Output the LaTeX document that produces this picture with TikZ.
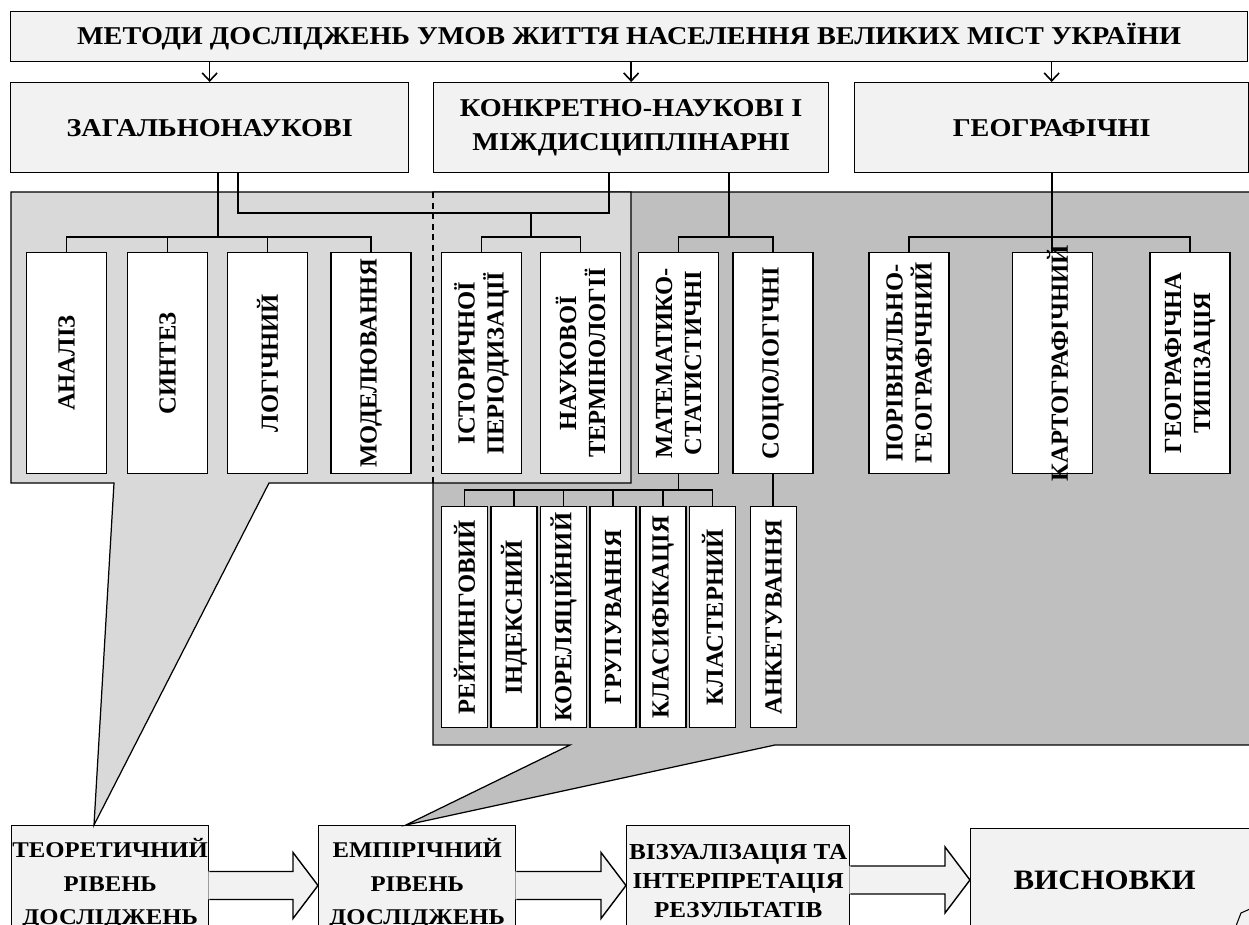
\documentclass[tikz,border=0pt]{standalone}
\usepackage{fontspec}
\setmainfont{Liberation Serif}
\newfontfamily\widefont{Liberation Serif}[FakeStretch=1.1]
\usetikzlibrary{positioning,calc,arrows.meta}

\definecolor{boxgray}{HTML}{F2F2F2}
\definecolor{lightpanel}{HTML}{D9D9D9}
\definecolor{darkpanel}{HTML}{BFBFBF}

\tikzset{
  headbox/.style={draw, line width=0.8pt, fill=boxgray, inner sep=0pt, anchor=north west, align=center,
    font=\widefont\bfseries\fontsize{14.6}{19.5}\selectfont},
  stagefont/.style={font=\widefont\bfseries\fontsize{12.8}{19}\selectfont},
  method/.style={draw, line width=0.8pt, fill=white, inner sep=0pt, minimum width=1.6cm, minimum height=4.42cm, anchor=north},
  submethod/.style={method, minimum width=0.92cm},
  vlabel/.style={rotate=90, align=center, inner sep=0pt, font=\bfseries\fontsize{14}{16.5}\selectfont},
  panel/.style={draw, line width=0.7pt},
  link/.style={line width=1.1pt},
}

% block arrow between two boxes of the lower row
\newcommand\flowarrow[3]{%
  \coordinate (fa-a) at (#1.east |- 0,#3);
  \coordinate (fa-b) at (#2.west |- 0,#3);
  \fill[boxgray] ($(fa-a)+(-1,-14)$) -- ($(fa-b)+(-25,-14)$) -- ($(fa-b)+(-25,-33)$) -- (fa-b)
    -- ($(fa-b)+(-25,33)$) -- ($(fa-b)+(-25,14)$) -- ($(fa-a)+(-1,14)$) -- cycle;
  \draw[line width=0.8pt] ($(fa-a)+(0,-14)$) -- ($(fa-b)+(-25,-14)$) -- ($(fa-b)+(-25,-33)$) -- (fa-b)
    -- ($(fa-b)+(-25,33)$) -- ($(fa-b)+(-25,14)$) -- ($(fa-a)+(0,14)$);
}

\begin{document}
\begin{tikzpicture}[x=0.02cm, y=-0.02cm, >={Straight Barb[length=4.5pt,width=8.5pt]}]
  \useasboundingbox (0,0) rectangle (1249,925);
  \clip (0,0) rectangle (1249,925);

  % head
  \node[headbox, minimum width=24.74cm, minimum height=1cm] (title) at (10,11)
    {МЕТОДИ ДОСЛІДЖЕНЬ УМОВ ЖИТТЯ НАСЕЛЕННЯ ВЕЛИКИХ МІСТ УКРАЇНИ};
  \node[headbox, minimum width=7.96cm, minimum height=1.8cm] (zag) at (10,82) {ЗАГАЛЬНОНАУКОВІ};
  \node[headbox, minimum width=7.9cm, minimum height=1.8cm] (conc) at (433,82) {КОНКРЕТНО-НАУКОВІ І\\МІЖДИСЦИПЛІНАРНІ};
  \node[headbox, minimum width=7.88cm, minimum height=1.8cm] (geo) at (854,82) {ГЕОГРАФІЧНІ};

  \draw[->, line width=0.9pt] (zag.north |- title.south) -- (zag.north);
  \draw[->, line width=0.9pt] (conc.north |- title.south) -- (conc.north);
  \draw[->, line width=0.9pt] (geo.north |- title.south) -- (geo.north);

  % lower row
  \node[headbox, stagefont, minimum width=3.94cm, minimum height=2.34cm]
    (theo) at (11,825) {ТЕОРЕТИЧНИЙ\\РІВЕНЬ\\ДОСЛІДЖЕНЬ};
  \node[headbox, stagefont, minimum width=3.94cm, minimum height=2.34cm]
    (emp) at (318,825) {ЕМПІРІЧНИЙ\\РІВЕНЬ\\ДОСЛІДЖЕНЬ};
  \node[headbox, minimum width=4.46cm, minimum height=2.2cm, font=\widefont\bfseries\fontsize{13}{16.5}\selectfont]
    (viz) at (626,825) {ВІЗУАЛІЗАЦІЯ ТА\\ІНТЕРПРЕТАЦІЯ\\РЕЗУЛЬТАТІВ};
  \node[headbox, minimum width=6.6cm, minimum height=2.08cm,
    label={[xshift=-0.62cm, font=\widefont\bfseries\fontsize{16}{19}\selectfont]center:ВИСНОВКИ}]
    (visn) at (970,828) {};
  \draw[line width=0.6pt, fill=boxgray] (1236,926) -- (1241,913) -- (1250,909) -- (1250,926);

  % panels with callouts
  \draw[panel, fill=darkpanel] (433,192) -- (1260,192) -- (1260,745) -- (775,745)
    -- ($(emp.north west)+(88,0)$) -- (570,745) -- (433,745) -- cycle;
  \draw[panel, fill=lightpanel] (11,192) -- (631,192) -- (631,483) -- (269,483)
    -- ($(theo.north west)+(83,0)$) -- (114,483) -- (11,483) -- cycle;
  \draw[line width=0.7pt, dash pattern=on 3.5pt off 2.5pt] (433,192) -- (433,483);

  % methods
  \node[method, label={[vlabel]center:АНАЛІЗ}] (an) at (66.5,252) {};
  \node[method, label={[vlabel]center:СИНТЕЗ}] (syn) at (167.5,252) {};
  \node[method, label={[vlabel]center:ЛОГІЧНИЙ}] (log) at (267.5,252) {};
  \node[method, label={[vlabel]center:МОДЕЛЮВАННЯ}] (mod) at (371,252) {};
  \node[method, label={[vlabel]center:ІСТОРИЧНОЇ\\ПЕРІОДИЗАЦІЇ}] (ist) at (481.5,252) {};
  \node[method, label={[vlabel]center:НАУКОВОЇ\\ТЕРМІНОЛОГІЇ}] (nauk) at (580.5,252) {};
  \node[method, label={[vlabel]center:МАТЕМАТИКО-\\СТАТИСТИЧНІ}] (mat) at (678.5,252) {};
  \node[method, label={[vlabel]center:СОЦІОЛОГІЧНІ}] (soc) at (773,252) {};
  \node[method, label={[vlabel]center:ПОРІВНЯЛЬНО-\\ГЕОГРАФІЧНИЙ}] (por) at (909,252) {};
  \node[method, label={[vlabel, yshift=-0.1cm]center:КАРТОГРАФІЧНИЙ}] (kart) at (1052.5,252) {};
  \node[method, label={[vlabel]center:ГЕОГРАФІЧНА\\ТИПІЗАЦІЯ}] (tip) at (1190,252) {};

  \node[submethod, label={[vlabel]center:РЕЙТИНГОВИЙ}] (rey) at (464.5,506) {};
  \node[submethod, label={[vlabel]center:ІНДЕКСНИЙ}] (ind) at (514,506) {};
  \node[submethod, label={[vlabel]center:КОРЕЛЯЦІЙНИЙ}] (kor) at (563.5,506) {};
  \node[submethod, label={[vlabel]center:ГРУПУВАННЯ}] (gru) at (613,506) {};
  \node[submethod, label={[vlabel]center:КЛАСИФІКАЦІЯ}] (kla) at (663,506) {};
  \node[submethod, label={[vlabel]center:КЛАСТЕРНИЙ}] (klt) at (712.5,506) {};
  \node[submethod, label={[vlabel]center:АНКЕТУВАННЯ}] (ank) at (773.5,506) {};

  % tree links
  \draw[link] ($(zag.south)+(8,0)$) -- ++(0,65);
  \draw[link] ($(zag.south)+(28,0)$) -- ++(0,40) -| ($(conc.south)+(-22,0)$);
  \draw[link] ($(ist.north)!0.5!(nauk.north)+(0,-15)$) -- ++(0,-25);
  \draw[link] ($(conc.south)+(97.5,0)$) -- ++(0,65);
  \draw[link] (geo.south) -- (geo.south |- kart.north);
  \draw[link] (an.north) -- ++(0,-15) -| (mod.north)
              (syn.north) -- ++(0,-15) (log.north) -- ++(0,-15);
  \draw[link] (ist.north) -- ++(0,-15) -| (nauk.north);
  \draw[link] (mat.north) -- ++(0,-15) -| (soc.north);
  \draw[link] (por.north) -- ++(0,-15) -| (tip.north);
  \draw[link] (mat.south) -- ++(0,17);
  \draw[link] (rey.north) -- ++(0,-16) -| (klt.north)
              (ind.north) -- ++(0,-16) (kor.north) -- ++(0,-16)
              (gru.north) -- ++(0,-16) (kla.north) -- ++(0,-16);
  \draw[link] (soc.south) -- (soc.south |- ank.north);

  % stages
  \flowarrow{theo}{emp}{885.5}
  \flowarrow{emp}{viz}{885.5}
  \flowarrow{viz}{visn}{880}
\end{tikzpicture}
\end{document}
